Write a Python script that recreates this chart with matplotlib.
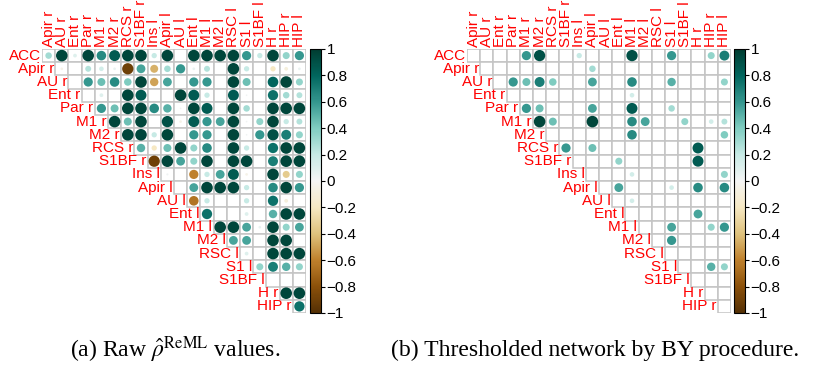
import numpy as np
import matplotlib
matplotlib.use("Agg")
import matplotlib.pyplot as plt
from matplotlib.patches import Rectangle, Circle
from matplotlib.colors import Normalize
from matplotlib.cm import ScalarMappable

plt.rcParams['font.family'] = ['Liberation Sans', 'DejaVu Sans']
plt.rcParams['mathtext.fontset'] = 'stix'

# ---------------- data ----------------
regions = ["ACC", "Apir r", "AU r", "Ent r", "Par r", "M1 r", "M2 r", "RCS r", "S1BF r",
           "Ins l", "Apir l", "AU l", "Ent l", "M1 l", "M2 l", "RSC l", "S1 l", "S1BF l",
           "H r", "HIP r", "HIP l"]
row_labels = regions[:-1]
col_labels = regions[1:]

# panel (a): raw estimates, row i holds columns i..19 (upper triangle)
raw_ACC = [0.3, 0.95, 0.1, 0.95, 0.65, 0.85, 0.95, 0.95, 0.2, 0.95, 0, 0.95, 0.95, 0.95, 0.95, 0.6, 0.2, 0.95, 0.35, 0.6]
raw_Apir_r = [-0.05, 0, 0.25, 0.15, 0.05, -0.9, 0.55, -0.45, 0.3, 0.6, 0.05, 0.25, 0, 0.95, 0.2, 0, -0.2, -0.1, 0.05]
raw_AU_r = [0, 0.6, 0.45, 0.65, 0.4, 0.95, -0.5, 0.55, 0, 0.6, 0.6, 0, 0.95, 0.45, 0, 0.8, 0.95, 0.35]
raw_Ent_r = [0, 0.1, 0, 0.95, 0.85, 0, 0, 0.95, 0.85, 0.2, 0, 0.85, 0.02, 0, 0.75, 0.3, 0.25]
raw_Par_r = [0.6, 0.45, 0.95, 0.95, 0.65, 0.5, 0.02, 0.95, 0.85, 0, 0.95, 0.3, 0, 0.95, 0.95, 0.95]
raw_M1_r = [0.95, 0.45, 0.95, 0, 0.9, -0.05, 0.85, 0.6, 0.55, 0.95, 0.02, 0.35, 0.95, 0.2, 0.25]
raw_M2_r = [0.95, 0.95, 0.2, 0.95, 0, 0.6, 0.6, 0, 0.95, 0.02, 0.6, 0.9, 0.7, 0.35]
raw_RCS_r = [0.5, -0.2, 0.45, 0.95, 0.35, 0.65, 0, 0.95, 0.2, 0, 0.75, 0.95, 0.95]
raw_S1BF_r = [-0.9, 0.95, 0.55, 0.35, 0.95, 0, 0.95, 0.95, 0, 0.7, 0.95, 0.95]
raw_Ins_l = [0.03, 0, -0.6, 0.2, 0.55, 0.85, -0.05, 0, 0.95, -0.35, 0.35]
raw_Apir_l = [0, 0.55, 0.95, 0.95, 0.95, 0.2, 0, 0.65, 0.95, 0.6]
raw_AU_l = [-0.65, 0.2, 0, 0, 0.2, 0, 0.75, -0.1, 0]
raw_Ent_l = [0.75, 0, 0, 0.1, 0, 0.5, 0.95, 0.95]
raw_M1_l = [0.95, 0.95, 0.55, 0.05, 0.95, 0.35, 0.55]
raw_M2_l = [0.55, 0.55, 0, 0.95, 0.95, 0]
raw_RSC_l = [0.1, 0, 0.95, 0.95, 0.95]
raw_S1_l = [0.35, 0.7, 0.5, 0.35]
raw_S1BF_l = [0, 0, 0]
raw_H_r = [0.95, 0.95]
raw_HIP_r = [0.75]

# panel (b): thresholded network (BY procedure)
by_ACC = [0, 0, 0, 0, 0.6, 0.9, 0, 0, 0.2, 0, 0, 0, 0.9, 0, 0, 0.6, 0, 0, 0.35, 0.7]
by_Apir_r = [0, 0, 0, 0, 0, 0, 0, 0, 0.3, 0, 0, 0, 0, 0, 0, 0, 0, 0, 0]
by_AU_r = [0, 0.6, 0.45, 0.7, 0.4, 0, 0, 0.55, 0, 0, 0.65, 0, 0, 0.5, 0, 0, 0, 0.35]
by_Ent_r = [0, 0, 0, 0, 0, 0, 0, 0, 0, 0.15, 0, 0, 0, 0, 0, 0, 0]
by_Par_r = [0.6, 0.45, 0, 0, 0, 0.55, 0, 0, 0.85, 0, 0, 0.3, 0, 0, 0, 0]
by_M1_r = [0.95, 0.45, 0, 0, 0.95, 0, 0, 0.65, 0.55, 0, 0, 0.35, 0, 0.15, 0.25]
by_M2_r = [0, 0, 0, 0, 0, 0, 0.65, 0, 0, 0, 0, 0, 0, 0.4]
by_RCS_r = [0.6, 0, 0.45, 0, 0, 0, 0, 0, 0, 0, 0.85, 0, 0]
by_S1BF_r = [0, 0, 0, 0.35, 0, 0, 0, 0, 0, 0.85, 0, 0]
by_Ins_l = [0, 0, 0, 0.15, 0, 0, 0, 0, 0, 0, 0.35]
by_Apir_l = [0, 0.55, 0, 0, 0, 0.15, 0, 0.65, 0, 0.65]
by_AU_l = [0, 0.15, 0, 0, 0, 0, 0, 0, 0]
by_Ent_l = [0, 0, 0, 0, 0, 0.55, 0, 0]
by_M1_l = [0, 0, 0.55, 0, 0, 0.35, 0.6]
by_M2_l = [0, 0.6, 0, 0, 0, 0]
by_RSC_l = [0, 0, 0, 0, 0]
by_S1_l = [0, 0, 0.5, 0.35]
by_S1BF_l = [0, 0, 0]
by_H_r = [0, 0]
by_HIP_r = [0]

raw_rows = [raw_ACC, raw_Apir_r, raw_AU_r, raw_Ent_r, raw_Par_r, raw_M1_r, raw_M2_r,
            raw_RCS_r, raw_S1BF_r, raw_Ins_l, raw_Apir_l, raw_AU_l, raw_Ent_l, raw_M1_l,
            raw_M2_l, raw_RSC_l, raw_S1_l, raw_S1BF_l, raw_H_r, raw_HIP_r]
by_rows = [by_ACC, by_Apir_r, by_AU_r, by_Ent_r, by_Par_r, by_M1_r, by_M2_r,
           by_RCS_r, by_S1BF_r, by_Ins_l, by_Apir_l, by_AU_l, by_Ent_l, by_M1_l,
           by_M2_l, by_RSC_l, by_S1_l, by_S1BF_l, by_H_r, by_HIP_r]

cbar_ticks = [1, 0.8, 0.6, 0.4, 0.2, 0, -0.2, -0.4, -0.6, -0.8, -1]
captions = [r"(a) Raw $\hat{\rho}^{\mathrm{ReML}}$ values.",
            "(b) Thresholded network by BY procedure."]

# ---------------- drawing ----------------
W, H = 824, 373
fig = plt.figure(figsize=(W / 100, H / 100), dpi=100)
cmap = plt.get_cmap('BrBG')
norm = Normalize(-1, 1)
n = len(row_labels)


def fx(px):
    return px / W


def fy(py):
    return 1 - py / H


def draw_panel(rows, left, top, size, cbar_left):
    ax = fig.add_axes([fx(left), fy(top + size), fx(size), size / H])
    ax.set_xlim(0, n)
    ax.set_ylim(n, 0)
    ax.axis('off')
    for i, row in enumerate(rows):
        for k, v in enumerate(row):
            j = i + k
            ax.add_patch(Rectangle((j, i), 1, 1, facecolor='white',
                                   edgecolor='#c4c4c4', lw=1.1, zorder=1))
            if v != 0:
                ax.add_patch(Circle((j + 0.5, i + 0.5), 0.45 * np.sqrt(abs(v)),
                                    facecolor=cmap(norm(v)), edgecolor='none', zorder=2))
        ax.text(i - 0.1, i + 0.5, row_labels[i], ha='right', va='center',
                color='red', fontsize=11, clip_on=False)
    for j, lab in enumerate(col_labels):
        ax.text(j + 0.5, -0.15, lab, ha='center', va='bottom', rotation=90,
                color='red', fontsize=11, clip_on=False)
    cax = fig.add_axes([fx(cbar_left), fy(top + size), fx(11), size / H])
    cb = fig.colorbar(ScalarMappable(norm=norm, cmap=cmap), cax=cax)
    cb.set_ticks(cbar_ticks)
    cb.set_ticklabels([f"{t:g}".replace('-', '\u2212') for t in cbar_ticks])
    cb.ax.tick_params(labelsize=11, length=3, width=0.8, pad=1)
    cb.outline.set_linewidth(0.8)


draw_panel(raw_rows, 42, 49, 264, 310)
draw_panel(by_rows, 467, 49, 264, 734)

fig.text(fx(175), fy(350), captions[0], ha='center', va='center',
         fontsize=17, family='Liberation Serif')
fig.text(fx(595), fy(350), captions[1], ha='center', va='center',
         fontsize=17, family='Liberation Serif')

fig.savefig('out.png', dpi=100)
